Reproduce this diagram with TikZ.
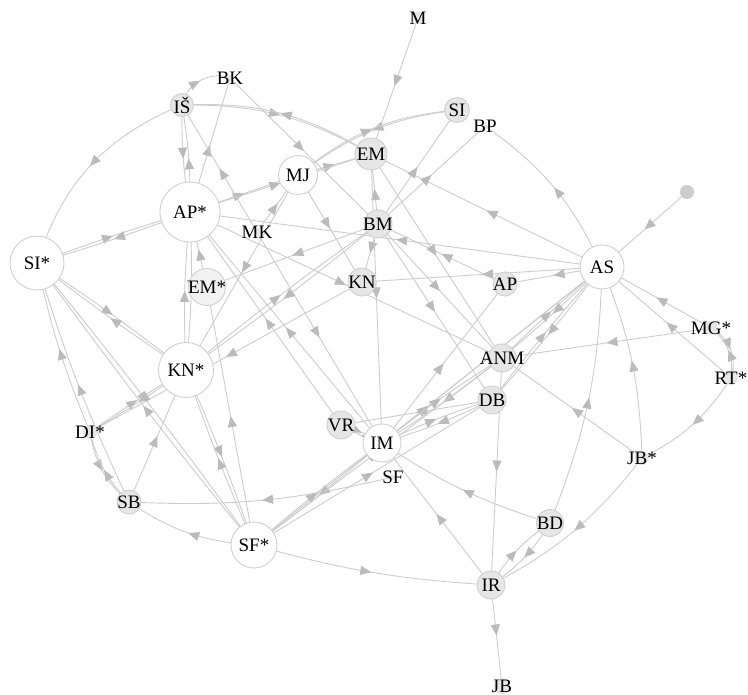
\documentclass[tikz,border=0pt]{standalone}
\usepackage{fontspec}
\setmainfont{Liberation Serif}
\usetikzlibrary{arrows.meta,decorations.markings,backgrounds}
\definecolor{linec}{HTML}{CDCDCD}
\definecolor{arrc}{HTML}{BBBBBB}
\definecolor{grayfill}{HTML}{E6E6E6}
\definecolor{lightfill}{HTML}{F2F2F2}
\definecolor{ringc}{HTML}{D0D0D0}
\definecolor{dotc}{HTML}{CCCCCC}
\begin{document}
\begin{tikzpicture}[x=1pt,y=-1pt,
  lnk/.style={draw=linec, line width=0.9pt, postaction={decorate},
    decoration={markings, mark=at position 0.5 with {\arrow[color=arrc]{Triangle[length=11pt,width=9pt]}}}},
  wnode/.style={circle, draw=ringc, fill=white, line width=0.9pt, inner sep=0pt},
  gnode/.style={circle, draw=ringc, fill=grayfill, line width=0.9pt, inner sep=0pt},
  lnode/.style={circle, draw=ringc, fill=lightfill, line width=0.9pt, inner sep=0pt},
  tnode/.style={circle, fill=grayfill, inner sep=0pt},
  lbl/.style={font=\fontsize{19}{19}\selectfont, inner sep=0pt, text=black}]
\useasboundingbox (0,0) rectangle (748,695);
% nodes
\node[wnode, minimum size=54pt, label={[lbl]center:SI*}] (SIs) at (37,263) {};
\node[wnode, minimum size=60pt, label={[lbl]center:AP*}] (APs) at (190,212) {};
\node[gnode, minimum size=23pt, label={[lbl]center:IŠ}] (IS) at (182,105) {};
\node[tnode, minimum size=6pt, label={[lbl]center:BK}] (BK) at (230,78) {};
\node[wnode, minimum size=39pt, label={[lbl]center:MJ}] (MJ) at (298,175) {};
\node[gnode, minimum size=32pt, label={[lbl]center:EM}] (EM) at (371,154) {};
\node[gnode, minimum size=25pt, label={[lbl]center:SI}] (SI) at (457,110) {};
\node[tnode, minimum size=6pt, label={[lbl]center:BP}] (BP) at (485,126) {};
\node[gnode, minimum size=28pt, label={[lbl]center:BM}] (BM) at (378,224) {};
\node[tnode, minimum size=6pt, label={[lbl]center:MK}] (MK) at (257,232) {};
\node[lnode, minimum size=37pt, label={[lbl]center:EM*}] (EMs) at (207,287) {};
\node[gnode, minimum size=28pt, label={[lbl]center:KN}] (KN) at (362,282) {};
\node[gnode, minimum size=24pt, label={[lbl]center:AP}] (AP) at (505,284) {};
\node[wnode, minimum size=44pt, label={[lbl]center:AS}] (AS) at (602,267) {};
\node[circle, fill=dotc, inner sep=0pt, minimum size=14pt] (DOT) at (687,192) {};
\node[tnode, minimum size=14pt, label={[lbl]center:MG*}] (MGs) at (711,328) {};
\node[tnode, minimum size=14pt, label={[lbl]center:RT*}] (RTs) at (731,378) {};
\node[gnode, minimum size=28pt, label={[lbl]center:ANM}] (ANM) at (502,358) {};
\node[gnode, minimum size=28pt, label={[lbl]center:DB}] (DB) at (492,400) {};
\node[wnode, minimum size=55pt, label={[lbl]center:KN*}] (KNs) at (186,370) {};
\node[tnode, minimum size=14pt, label={[lbl]center:DI*}] (DIs) at (90,432) {};
\node[gnode, minimum size=28pt, label={[lbl]center:VR}] (VR) at (341,425) {};
\node[wnode, minimum size=38pt, label={[lbl]center:IM}] (IM) at (382,443) {};
\node[tnode, minimum size=6pt, label={[lbl]center:SF}] (SF) at (393,477) {};
\node[tnode, minimum size=14pt, label={[lbl]center:JB*}] (JBs) at (642,458) {};
\node[gnode, minimum size=24pt, label={[lbl]center:SB}] (SB) at (129,502) {};
\node[wnode, minimum size=46pt, label={[lbl]center:SF*}] (SFs) at (254,545) {};
\node[gnode, minimum size=27pt, label={[lbl]center:BD}] (BD) at (550,523) {};
\node[gnode, minimum size=28pt, label={[lbl]center:IR}] (IR) at (491,585) {};
\node[tnode, minimum size=16pt, label={[lbl]center:JB}] (JB) at (502,686) {};
\node[tnode, minimum size=12pt, label={[lbl]center:M}] (M) at (418,18) {};
% edges
\begin{pgfonlayer}{background}
\fill[white] (0,0) rectangle (748,695);
\draw[lnk] (M.center) -- (EM.center);
\draw[lnk] (IS.center) to[bend left=50] (BK.center);
\draw[lnk] (APs.center) -- (BK.center);
\draw[lnk] (BK.center) -- (BM.center);
\draw[lnk] (IS.center) to[bend left=15] (EM.center);
\draw[lnk] (EM.center) to[bend right=17] (IS.center);
\draw[lnk] (SI.center) to[bend right=15] (MJ.center);
\draw[lnk] (MJ.center) to[bend left=17] (SI.center);
\draw[lnk] (MJ.center) -- (EM.center);
\draw[lnk] (APs.center) -- (MJ.center);
\draw[lnk] (APs.center) -- (EM.center);
\draw[lnk] (IS.center) to[bend right=25] (SIs.center);
\draw[lnk] (IS.center) to[bend right=5] (APs.center);
\draw[lnk] (APs.center) to[bend right=5] (IS.center);
\draw[lnk] (MK.center) -- (IS.center);
\draw[lnk] (MK.center) -- (MJ.center);
\draw[lnk] (MK.center) -- (IM.center);
\draw[lnk] (MJ.center) -- (KN.center);
\draw[lnk] (MJ.center) -- (KNs.center);
\draw[lnk] (AS.center) to[bend right=15] (BP.center);
\draw[lnk] (AS.center) -- (EM.center);
\draw[lnk] (AS.center) -- (APs.center);
\draw[lnk] (AP.center) -- (BM.center);
\draw[lnk] (BM.center) -- (SI.center);
\draw[lnk] (BM.center) -- (BP.center);
\draw[lnk] (BM.center) -- (EM.center);
\draw[lnk] (BM.center) -- (KN.center);
\draw[lnk] (EM.center) -- (ANM.center);
\draw[lnk] (EM.center) -- (IM.center);
\draw[lnk] (BM.center) -- (ANM.center);
\draw[lnk] (BM.center) -- (DB.center);
\draw[lnk] (DOT.center) -- (AS.center);
\draw[lnk] (AS.center) -- (KN.center);
\draw[lnk] (AS.center) -- (AP.center);
\draw[lnk] (ANM.center) to[bend left=2] (AS.center);
\draw[lnk] (AS.center) to[bend left=2] (ANM.center);
\draw[lnk] (DB.center) to[bend left=2] (AS.center);
\draw[lnk] (AS.center) to[bend left=2] (DB.center);
\draw[lnk] (AS.center) -- (IM.center);
\draw[lnk] (SFs.center) -- (AS.center);
\draw[lnk] (MGs.center) -- (AS.center);
\draw[lnk] (RTs.center) -- (AS.center);
\draw[lnk] (MGs.center) to[bend left=40] (RTs.center);
\draw[lnk] (RTs.center) to[bend right=30] (MGs.center);
\draw[lnk] (MGs.center) -- (ANM.center);
\draw[lnk] (RTs.center) to[bend left=15] (JBs.center);
\draw[lnk] (JBs.center) to[bend right=10] (AS.center);
\draw[lnk] (JBs.center) -- (ANM.center);
\draw[lnk] (JBs.center) to[bend left=12] (IR.center);
\draw[lnk] (BD.center) to[bend right=10] (AS.center);
\draw[lnk] (IR.center) to[bend left=12] (BD.center);
\draw[lnk] (BD.center) to[bend left=12] (IR.center);
\draw[lnk] (BD.center) to[bend left=8] (IM.center);
\draw[lnk] (ANM.center) -- (IR.center);
\draw[lnk] (IR.center) -- (IM.center);
\draw[lnk] (SFs.center) to[bend right=6] (IR.center);
\draw[lnk] (IR.center) -- (JB.center);
\draw[lnk] (SF.center) to[bend left=8] (SB.center);
\draw[lnk] (SIs.center) to[bend left=2] (APs.center);
\draw[lnk] (APs.center) to[bend left=2] (SIs.center);
\draw[lnk] (SIs.center) to[bend left=2] (KNs.center);
\draw[lnk] (KNs.center) to[bend left=2] (SIs.center);
\draw[lnk] (SIs.center) to[bend left=1.5] (SFs.center);
\draw[lnk] (SFs.center) to[bend left=1.5] (SIs.center);
\draw[lnk] (DIs.center) to[bend left=5] (SIs.center);
\draw[lnk] (SB.center) to[bend left=4] (SIs.center);
\draw[lnk] (EMs.center) -- (APs.center);
\draw[lnk] (APs.center) to[bend left=4] (KNs.center);
\draw[lnk] (KNs.center) to[bend left=4] (APs.center);
\draw[lnk] (SFs.center) -- (EMs.center);
\draw[lnk] (KNs.center) to[bend left=2] (SFs.center);
\draw[lnk] (SFs.center) to[bend left=2] (KNs.center);
\draw[lnk] (KNs.center) to[bend left=2] (BM.center);
\draw[lnk] (BM.center) to[bend left=2] (KNs.center);
\draw[lnk] (BM.center) -- (EMs.center);
\draw[lnk] (KN.center) -- (DIs.center);
\draw[lnk] (APs.center) -- (ANM.center);
\draw[lnk] (IM.center) -- (APs.center);
\draw[lnk] (VR.center) -- (APs.center);
\draw[lnk] (VR.center) to[bend left=6] (IM.center);
\draw[lnk] (IM.center) to[bend left=6] (VR.center);
\draw[lnk] (DB.center) -- (VR.center);
\draw[lnk] (IM.center) to[bend left=4] (DB.center);
\draw[lnk] (DB.center) to[bend left=4] (IM.center);
\draw[lnk] (IM.center) to[bend left=3] (ANM.center);
\draw[lnk] (ANM.center) to[bend left=3] (IM.center);
\draw[lnk] (IM.center) -- (AP.center);
\draw[lnk] (IM.center) to[bend left=2] (SFs.center);
\draw[lnk] (SFs.center) to[bend left=2] (IM.center);
\draw[lnk] (SFs.center) -- (ANM.center);
\draw[lnk] (SFs.center) -- (DB.center);
\draw[lnk] (SB.center) -- (KNs.center);
\draw[lnk] (DIs.center) to[bend left=2] (KNs.center);
\draw[lnk] (KNs.center) to[bend left=2] (DIs.center);
\draw[lnk] (DIs.center) to[bend right=20] (SB.center);
\draw[lnk] (SB.center) to[bend left=15] (DIs.center);
\draw[lnk] (SFs.center) to[bend left=15] (SB.center);
\end{pgfonlayer}
\end{tikzpicture}
\end{document}
